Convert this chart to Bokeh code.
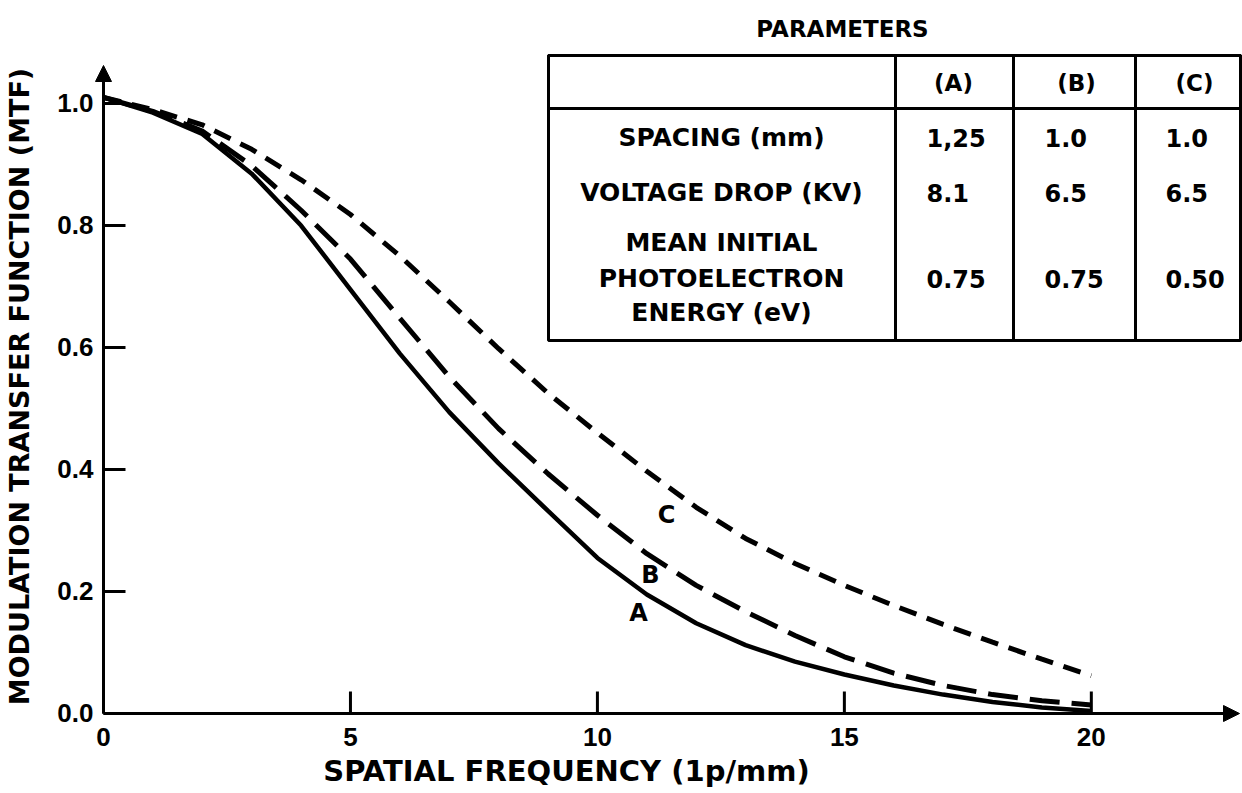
from bokeh.plotting import figure
from bokeh.models import Range1d, Label, Arrow, NormalHead, BoxAnnotation
from bokeh.core.properties import value
from bokeh.embed import file_html
from bokeh.resources import INLINE

# ---------------- data ----------------
freq = [0, 1, 2, 3, 4, 5, 6, 7, 8, 9, 10, 11, 12, 13, 14, 15, 16, 17, 18, 19, 20]
mtf_a = [1.01, 0.985, 0.950, 0.885, 0.800, 0.695, 0.590, 0.494, 0.410, 0.332, 0.255,
         0.195, 0.148, 0.112, 0.085, 0.064, 0.046, 0.031, 0.019, 0.010, 0.004]
mtf_b = [1.01, 0.987, 0.955, 0.898, 0.825, 0.745, 0.648, 0.552, 0.467, 0.393, 0.325,
         0.262, 0.210, 0.167, 0.128, 0.093, 0.066, 0.046, 0.031, 0.021, 0.014]
mtf_c = [1.01, 0.990, 0.965, 0.925, 0.875, 0.818, 0.750, 0.675, 0.598, 0.525, 0.460,
         0.397, 0.338, 0.287, 0.246, 0.210, 0.177, 0.146, 0.117, 0.089, 0.062]

x_ticks = [0, 5, 10, 15, 20]
x_tick_labels = ["0", "5", "10", "15", "20"]
y_ticks = [0.0, 0.2, 0.4, 0.6, 0.8, 1.0]
y_tick_labels = ["0.0", "0.2", "0.4", "0.6", "0.8", "1.0"]

x_title = "SPATIAL FREQUENCY (1p/mm)"
y_title = "MODULATION TRANSFER FUNCTION (MTF)"

table_title = "PARAMETERS"
table_cols = ["(A)", "(B)", "(C)"]
row_names = ["SPACING (mm)", "VOLTAGE DROP (KV)", "MEAN INITIAL", "PHOTOELECTRON", "ENERGY (eV)"]
row_spacing = ["1,25", "1.0", "1.0"]
row_voltage = ["8.1", "6.5", "6.5"]
row_energy = ["0.75", "0.75", "0.50"]

# ---------------- layout (pixels of the page) ----------------
W, H = 1242, 793
OX, OY = 103, 713            # pixel position of the origin
XMAX, YMAX = 23.0, 1.0623    # ends of the axis arrows
PXU = (1239 - OX) / XMAX
PYU = (OY - 65) / YMAX


def X(px):
    return (px - OX) / PXU


def Y(py):
    return (OY - py) / PYU


p = figure(width=W, height=H, x_range=Range1d(X(0), X(W)), y_range=Range1d(Y(H), Y(0)),
           output_backend="svg", toolbar_location=None, title=None,
           x_axis_location=None, y_axis_location=None,
           min_border=0, min_border_left=0, min_border_right=0,
           min_border_top=0, min_border_bottom=0)
p.outline_line_color = None
p.grid.visible = False
p.background_fill_color = "white"
p.border_fill_color = "white"

# ---------------- axes (drawn through the plot's scales) ----------------
head = dict(size=16, fill_color="black", line_color="black", line_width=1)
p.add_layout(Arrow(end=NormalHead(**head), x_start=0, y_start=0, x_end=0, y_end=YMAX,
                   line_width=3, line_color="black"))
p.add_layout(Arrow(end=NormalHead(**head), x_start=0, y_start=0, x_end=XMAX, y_end=0,
                   line_width=3, line_color="black"))

TICK = 22
p.segment(x0=x_ticks, y0=[0] * len(x_ticks), x1=x_ticks, y1=[TICK / PYU] * len(x_ticks),
          line_color="black", line_width=3)
p.segment(x0=[0] * len(y_ticks), y0=y_ticks, x1=[TICK / PXU] * len(y_ticks), y1=y_ticks,
          line_color="black", line_width=3)

TICKFONT = dict(text_font=value("Liberation Sans"), text_font_style="bold",
                text_font_size=value("26px"), text_color="black", text_baseline="middle")
p.text(x=x_ticks, y=[-23 / PYU] * len(x_ticks), text=x_tick_labels, text_align="center", **TICKFONT)
p.text(x=[-10 / PXU] * len(y_ticks), y=[v + 1 / PYU for v in y_ticks], text=y_tick_labels,
       text_align="right", **TICKFONT)

# ---------------- curves ----------------
p.line(freq, mtf_a, line_color="black", line_width=4.5)
p.line(freq, mtf_b, line_color="black", line_width=5, line_dash="30 12")
p.line(freq, mtf_c, line_color="black", line_width=5, line_dash="18 11")

BOLD = dict(text_font="DejaVu Sans", text_font_style="bold", text_color="black",
            text_align="center", text_baseline="middle")

for txt, px, py in (("A", 638, 612), ("B", 650, 574), ("C", 666, 514)):
    p.add_layout(Label(x=X(px), y=Y(py), text=txt, text_font_size="24px", **BOLD))

# axis titles
p.add_layout(Label(x=X(19), y=Y(386), text=y_title, angle=1.5707963,
                   text_font_size="27px", **BOLD))
p.add_layout(Label(x=X(566), y=Y(770), text=x_title, text_font_size="29px", **BOLD))

# ---------------- parameter table ----------------
t_left, t_right, t_top, t_head, t_bot = 548, 1240, 55, 108, 340
col_edges = [895, 1013, 1135]
frame_box = dict(line_color="black", line_alpha=1.0, line_width=3)
p.add_layout(BoxAnnotation(left=X(t_left), right=X(t_right), top=Y(t_top), bottom=Y(t_bot),
                           fill_color="white", fill_alpha=1.0, **frame_box))
p.add_layout(BoxAnnotation(left=X(t_left), right=X(t_right), top=Y(t_top), bottom=Y(t_head),
                           fill_alpha=0, **frame_box))
p.add_layout(BoxAnnotation(left=X(col_edges[0]), right=X(col_edges[1]), top=Y(t_top), bottom=Y(t_bot),
                           fill_alpha=0, **frame_box))
p.add_layout(BoxAnnotation(left=X(col_edges[2]), right=X(t_right), top=Y(t_top), bottom=Y(t_bot),
                           fill_alpha=0, **frame_box))

p.add_layout(Label(x=X(842), y=Y(28), text=table_title, text_font_size="23px", **BOLD))

for txt, cx in zip(table_cols, [953, 1076, 1194]):
    p.add_layout(Label(x=X(cx), y=Y(82), text=txt, text_font_size="23px", **BOLD))

for txt, py in zip(row_names, [137, 192, 242, 278, 312]):
    p.add_layout(Label(x=X(721), y=Y(py), text=txt, text_font_size="25px", **BOLD))

LEFT = dict(BOLD, text_align="left")
for row, py in ((row_spacing, 137), (row_voltage, 192), (row_energy, 278)):
    for txt, lx in zip(row, [926, 1044, 1165]):
        p.add_layout(Label(x=X(lx), y=Y(py), text=txt, text_font_size="24px", **LEFT))

open("out.html", "w").write(file_html(p, INLINE))
